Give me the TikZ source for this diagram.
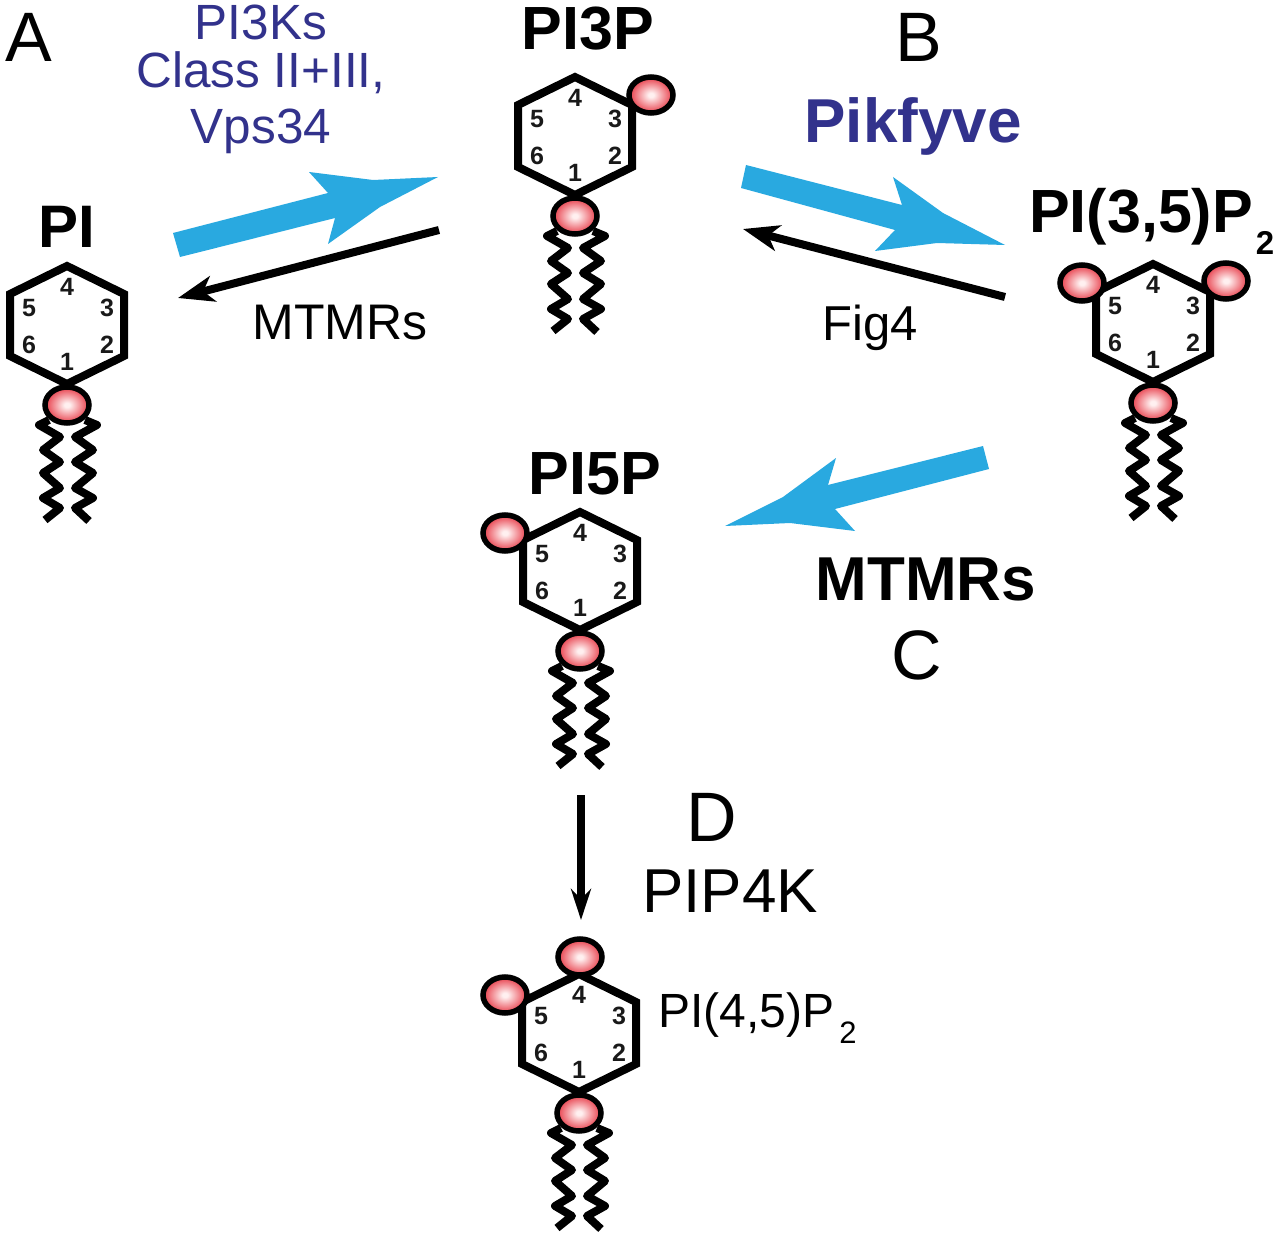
\documentclass[tikz,border=0pt]{standalone}
\usepackage{fontspec}
\setmainfont{Liberation Sans}
\usetikzlibrary{shapes.geometric,arrows.meta}
\definecolor{flowblue}{HTML}{29A9E0}
\definecolor{labelblue}{HTML}{32328C}
\definecolor{ballouter}{HTML}{E8434F}
\definecolor{ballinner}{HTML}{FFF0F0}
\pgfdeclareradialshading{ballshade}{\pgfpoint{0bp}{0bp}}{color(0bp)=(ballinner); color(3bp)=(ballinner); color(24bp)=(ballouter); color(50bp)=(ballouter)}
\newcommand{\fs}[1]{\fontsize{#1}{#1}\selectfont}
\tikzset{
  ball/.style={ellipse,draw=black,line width=5.5pt,minimum width=44pt,minimum height=36pt,inner sep=0pt,
     shading=ballshade},
  num/.style={inner sep=0pt,font=\fs{25}\bfseries,text=black!90},
  ring/.style={draw=black,line width=8pt,line join=miter},
  tailline/.style={draw=black,line width=8pt,line join=round},
  txt/.style={inner sep=0pt,anchor=base,text=black},
  blockarrow/.style={fill=flowblue,draw=none},
  thinarrow/.style={draw=black,line width=8pt,-{Stealth[length=36pt,width=26pt,inset=10pt]}},
}
\newcommand{\lipid}[3]{%
  \begin{scope}[shift={(#2,#3)}]
    \draw[ring] (0,-139) -- (57,-111) -- (57,-49) -- (0,-21) -- (-57,-49) -- (-57,-111) -- cycle;
    \draw[tailline] (-18,15) -- (-28,20) -- (-7,32) -- (-24,45) -- (-7,57) -- (-24,68) -- (-7,83) -- (-24,93) -- (-7,103) -- (-22,115);
    \draw[tailline] (18,15) -- (30,20) -- (8,32) -- (26,45) -- (8,57) -- (26,68) -- (8,83) -- (26,93) -- (8,103) -- (22,116);
    \node[ball] (#1) at (0,0) {};
    \node[num] (#1n4) at (0,-118) {4};
    \node[num] (#1n5) at (-38,-97) {5};
    \node[num] (#1n3) at (40,-97) {3};
    \node[num] (#1n6) at (-38,-60) {6};
    \node[num] (#1n2) at (40,-60) {2};
    \node[num] (#1n1) at (0,-43) {1};
  \end{scope}}
\begin{document}
\begin{tikzpicture}[x=1pt,y=-1pt]
\fill[white] (0,0) rectangle (1280,1238);
\useasboundingbox (0,0) rectangle (1280,1238);

% block arrows
\coordinate (a1tip) at (438,177);
\fill[blockarrow] (173,233) -- (328,193) -- (309,172) -- (373,180) -- (a1tip) -- (380,207) -- (328,244) -- (335,218) -- (180,257) -- cycle;
\coordinate (a2tip) at (1005,245);
\fill[blockarrow] (746,165) -- (902,205) -- (893,177) -- (943,213) -- (a2tip) -- (937,243) -- (875,251) -- (895,230) -- (741,188) -- cycle;
\coordinate (a3tip) at (725,526);
\fill[blockarrow] (983,446) -- (828,485) -- (836,458) -- (783,497) -- (a3tip) -- (790,523) -- (855,531) -- (835,509) -- (989,469) -- cycle;

% thin arrows
\coordinate (b1tail) at (439,230); \coordinate (b1tip) at (178,298);
\draw[thinarrow] (b1tail) -- (b1tip);
\coordinate (b2tail) at (1005,297); \coordinate (b2tip) at (743,229);
\draw[thinarrow] (b2tail) -- (b2tip);
\coordinate (b3tail) at (581,795); \coordinate (b3tip) at (581,920);
\draw[draw=black,line width=8pt,-{Stealth[length=31pt,width=20pt,inset=10pt]}] (b3tail) -- (b3tip);

% lipids
\lipid{pi}{67}{405}
\lipid{pithreep}{575}{216}
\lipid{pithreefive}{1153}{403}
\lipid{pifivep}{580}{651}
\lipid{pifourfive}{579}{1113}
\node[ball] (p3a) at (651,95) {};
\node[ball] (p35a) at (1082,283) {};
\node[ball] (p35b) at (1226,281) {};
\node[ball] (p5a) at (505,533) {};
\node[ball] (p45a) at (580,957) {};
\node[ball] (p45b) at (505,995) {};

% panel letters
\node[txt,font=\fs{70}] (la) at (29,62) {A};
\node[txt,font=\fs{70}] (lb) at (919,62) {B};
\node[txt,font=\fs{70}] (lc) at (917,679) {C};
\node[txt,font=\fs{70}] (ld) at (712,841) {D};

% molecule names
\node[txt,font=\fs{60}\bfseries] (t1) at (67,248) {PI};
\node[txt,font=\fs{61}\bfseries] (t2) at (588,50) {PI3P};
\node[txt,font=\fs{61}\bfseries] (t3) at (595,494) {PI5P};
\node[txt,font=\fs{61}\bfseries,anchor=base west] (t4) at (1029,233) {PI(3,5)P};
\node[txt,font=\fs{33}\bfseries] (t4s) at (1265,255) {2};
\node[txt,font=\fs{48},anchor=base west] (t5) at (658,1027) {PI(4,5)P};
\node[txt,font=\fs{31}] (t5s) at (848,1043) {2};

% enzymes
\node[txt,font=\fs{49.5},text=labelblue] (e1) at (261,40) {PI3Ks};
\node[txt,font=\fs{49.5},text=labelblue] (e2) at (261,88) {Class II+III,};
\node[txt,font=\fs{49.5},text=labelblue] (e3) at (261,144) {Vps34};
\node[txt,font=\fs{62}\bfseries,text=labelblue] (e4) at (913,143) {Pikfyve};
\node[txt,font=\fs{50}] (e5) at (340,340) {MTMRs};
\node[txt,font=\fs{49}] (e6) at (870,341) {Fig4};
\node[txt,font=\fs{62}\bfseries] (e7) at (926,600) {MTMRs};
\node[txt,font=\fs{62}] (e8) at (730,912) {PIP4K};
\end{tikzpicture}
\end{document}
